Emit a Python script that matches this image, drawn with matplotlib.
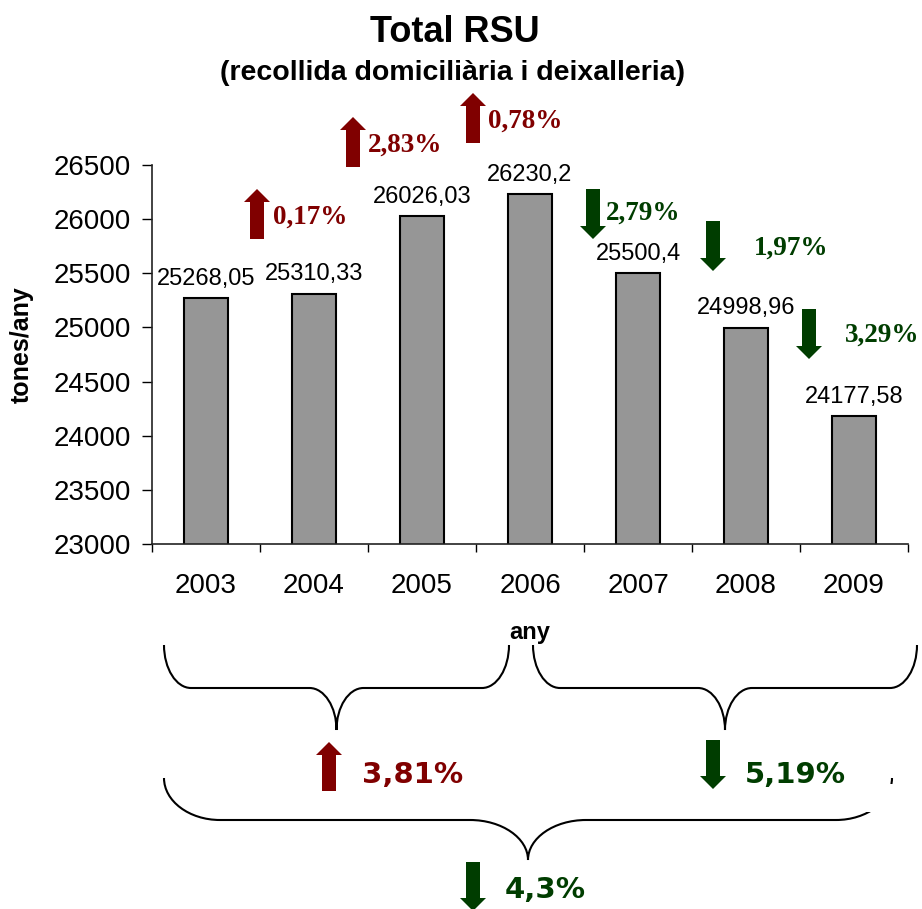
import matplotlib
matplotlib.use("Agg")
from matplotlib import pyplot as plt
from matplotlib.path import Path
from matplotlib.patches import PathPatch, Polygon, Rectangle

years = ["2003", "2004", "2005", "2006", "2007", "2008", "2009"]
tones = [25268.05, 25310.33, 26026.03, 26230.2, 25500.4, 24998.96, 24177.58]
labels = ["25268,05", "25310,33", "26026,03", "26230,2", "25500,4", "24998,96", "24177,58"]
yticks = [23000, 23500, 24000, 24500, 25000, 25500, 26000, 26500]

# yearly changes (text, up?)
changes = ["0,17%", "2,83%", "0,78%", "2,79%", "1,97%", "3,29%"]
change_up = [True, True, True, False, False, False]
# period changes: 2003-2006, 2006-2009, 2003-2009
periods = ["3,81%", "5,19%", "4,3%"]
period_up = [True, False, False]

RED = "#800000"
GREEN = "#003d00"
W, H = 922, 909

def fx(x):
    return x / W

def fy(y):
    return 1 - y / H

fig = plt.figure(figsize=(W / 100, H / 100), dpi=100)
ax = fig.add_axes([fx(152), fy(544), (908 - 152) / W, (544 - 165) / H])

x = range(len(years))
bars = ax.bar(x, tones, width=0.4, color="#969696", edgecolor="black", linewidth=1.5, zorder=2)
for xi, v, lab in zip(x, tones, labels):
    ax.annotate(lab, (xi, v), xytext=(0, 14), textcoords="offset points",
                ha="center", va="center", fontsize=17, family="Liberation Sans",
                annotation_clip=False)

ax.set_xlim(-0.5, len(years) - 0.5)
ax.set_ylim(23000, 26500)
ax.set_yticks(yticks)
ax.set_yticklabels([str(t) for t in yticks], family="Liberation Sans", fontsize=20)
ax.set_xticks(list(x))
ax.set_xticklabels(years, family="Liberation Sans", fontsize=20)
ax.set_xticks([i - 0.5 for i in range(len(years) + 1)], minor=True)
ax.tick_params(axis="x", which="major", length=0, pad=21)
ax.tick_params(axis="x", which="minor", length=6, width=1, direction="out")
ax.tick_params(axis="y", length=7, width=1, direction="out", pad=8)
for s in ["top", "right"]:
    ax.spines[s].set_visible(False)
for s in ["left", "bottom"]:
    ax.spines[s].set_linewidth(1.2)
    ax.spines[s].set_color("#222222")

fig.text(fx(22), fy(345), "tones/any", rotation=90, ha="center", va="center",
         fontsize=18, fontweight="bold", family="Liberation Sans")
fig.text(fx(530), fy(633), "any", ha="center", va="center",
         fontsize=17, fontweight="bold", family="Liberation Sans")

fig.text(fx(455), fy(33), "Total RSU", ha="center", va="center",
         fontsize=26, fontweight="bold", family="Liberation Sans")
fig.text(fx(452), fy(73), "(recollida domiciliària i deixalleria)", ha="center", va="center",
         fontsize=20.5, fontweight="bold", family="Liberation Sans")


def block_arrow(xc, ytop, ybot, up, color):
    hw, sw, hl = 13, 7, 13
    if up:
        pts = [(xc, ytop), (xc + hw, ytop + hl), (xc + sw, ytop + hl), (xc + sw, ybot),
               (xc - sw, ybot), (xc - sw, ytop + hl), (xc - hw, ytop + hl)]
    else:
        pts = [(xc, ybot), (xc + hw, ybot - hl), (xc + sw, ybot - hl), (xc + sw, ytop),
               (xc - sw, ytop), (xc - sw, ybot - hl), (xc - hw, ybot - hl)]
    fig.patches.append(Polygon([(fx(a), fy(b)) for a, b in pts], closed=True,
                               facecolor=color, edgecolor="none",
                               transform=fig.transFigure, figure=fig))


# yearly change markers: arrow centre, arrow top, text x, text y (pixels)
change_pos = [(257, 189, 273, 217), (353, 117, 368, 145), (473, 93, 488, 121),
              (593, 189, 606, 213), (713, 221, 754, 248), (809, 309, 845, 335)]
for txt, up, (ax_, at, tx, ty) in zip(changes, change_up, change_pos):
    col = RED if up else GREEN
    block_arrow(ax_, at, at + 50, up, col)
    fig.text(fx(tx), fy(ty), txt, ha="left", va="center", fontsize=19.5,
             fontweight="bold", family="Liberation Serif", color=col)

period_pos = [(329, 742, 362, 775), (713, 740, 745, 775), (473, 862, 505, 890)]
for txt, up, (ax_, at, tx, ty) in zip(periods, period_up, period_pos):
    col = RED if up else GREEN
    block_arrow(ax_, at, at + 49, up, col)
    fig.text(fx(tx), fy(ty), txt, ha="left", va="center", fontsize=21,
             fontweight="bold", family="DejaVu Sans", color=col)


def brace(x0, x1, ytop, ymid, ytip, rx_end, rx_tip):
    xt = (x0 + x1) / 2
    k = 0.55
    dy1 = ymid - ytop
    dy2 = ytip - ymid
    verts = [
        (x0, ytop),
        (x0, ytop + k * dy1), (x0 + rx_end * (1 - k), ymid), (x0 + rx_end, ymid),
        (xt - rx_tip, ymid),
        (xt - rx_tip * (1 - k), ymid), (xt, ymid + (1 - k) * dy2), (xt, ytip),
        (xt, ymid + (1 - k) * dy2), (xt + rx_tip * (1 - k), ymid), (xt + rx_tip, ymid),
        (x1 - rx_end, ymid),
        (x1 - rx_end * (1 - k), ymid), (x1, ytop + k * dy1), (x1, ytop),
    ]
    codes = [Path.MOVETO, Path.CURVE4, Path.CURVE4, Path.CURVE4, Path.LINETO,
             Path.CURVE4, Path.CURVE4, Path.CURVE4, Path.CURVE4, Path.CURVE4, Path.CURVE4,
             Path.LINETO, Path.CURVE4, Path.CURVE4, Path.CURVE4]
    p = Path([(fx(a), fy(b)) for a, b in verts], codes)
    fig.patches.append(PathPatch(p, facecolor="none", edgecolor="black", linewidth=1.5,
                                 transform=fig.transFigure, figure=fig))


brace(164, 509, 645, 688, 730, 27, 27)
brace(533, 917, 645, 688, 730, 27, 27)
brace(164, 892, 778, 820, 860, 56, 58)
# right end of the lower brace is hidden in the original
fig.patches.append(Rectangle((fx(864), fy(812)), fx(893) - fx(864), fy(784) - fy(812),
                             facecolor="white", edgecolor="none", zorder=5,
                             transform=fig.transFigure, figure=fig))

plt.savefig("out.png", dpi=100)
